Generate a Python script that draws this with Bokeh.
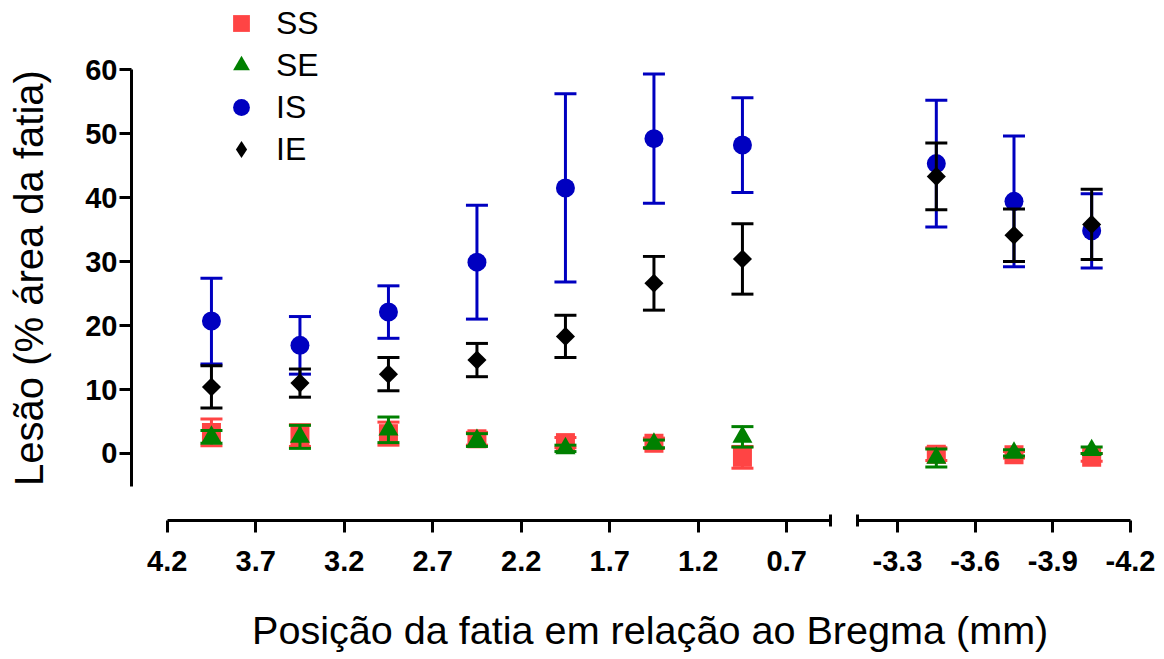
from math import pi
from bokeh.plotting import figure
from bokeh.layouts import column, row
from bokeh.models import (ColumnDataSource, Range1d, FixedTicker, PrintfTickFormatter,
                          Legend, LegendItem, Div)
from bokeh.embed import file_html
from bokeh.resources import INLINE

# posição da fatia em relação ao Bregma (mm)
posicao = [3.95, 3.45, 2.95, 2.45, 1.95, 1.45, 0.95, -3.45, -3.75, -4.05]

# lesão (% área da fatia): média e erro padrão por grupo
ss_media = [3.3, 2.8, 3.1, 2.3, 1.7, 1.6, -0.6, -0.1, -0.2, -0.6]
ss_erro = [2.1, 1.7, 1.8, 1.0, 0.8, 0.8, 1.7, 1.0, 0.5, 0.6]
se_media = [2.6, 2.6, 3.7, 2.1, 0.8, 1.5, 2.6, -0.7, 0.1, 0.5]
se_erro = [1.0, 1.8, 2.0, 1.0, 0.5, 0.6, 1.6, 1.4, 0.5, 0.5]
is_media = [20.7, 16.9, 22.1, 29.9, 41.5, 49.2, 48.2, 45.3, 39.4, 34.8]
is_erro = [6.7, 4.5, 4.1, 8.9, 14.7, 10.1, 7.4, 9.9, 10.2, 5.8]
ie_media = [10.4, 11.0, 12.4, 14.6, 18.3, 26.6, 30.4, 43.3, 34.1, 35.8]
ie_erro = [3.3, 2.2, 2.6, 2.6, 3.3, 4.2, 5.5, 5.2, 4.1, 5.5]

ticks_ant = [4.2, 3.7, 3.2, 2.7, 2.2, 1.7, 1.2, 0.7]
ticks_post = [-3.3, -3.6, -3.9, -4.2]
ticks_y = [0, 10, 20, 30, 40, 50, 60]

FONTE = "Liberation Sans"

# nome, média, erro, cor, marcador, tamanho, ângulo, marcador da legenda
grupos = [
    ("SS", ss_media, ss_erro, "#FF4444", "square", 19, 0, "square"),
    ("SE", se_media, se_erro, "#008000", "triangle", 20, 0, "triangle"),
    ("IS", is_media, is_erro, "#0000C0", "circle", 19, 0, "circle"),
    ("IE", ie_media, ie_erro, "#000000", "square", 13.5, pi / 4, "diamond"),
]

y_rng = Range1d(-10.47, 70.16)

p1 = figure(width=784, height=590, x_range=Range1d(4.4017, 0.3734), y_range=y_rng,
            output_backend="svg", toolbar_location=None,
            min_border_left=71, min_border_right=0, min_border_top=4, min_border_bottom=70)
p2 = figure(width=312, height=590, x_range=Range1d(-3.0954, -4.2502), y_range=y_rng,
            output_backend="svg", toolbar_location=None, y_axis_location=None,
            min_border_left=0, min_border_right=13, min_border_top=4, min_border_bottom=70)


def desenha(p, lado):
    itens = []
    for nome, media, erro, cor, marcador, tam, ang, marc_leg in grupos:
        idx = [i for i, x in enumerate(posicao) if (x > 0) == (lado == "ant")]
        src = ColumnDataSource(dict(
            x=[posicao[i] for i in idx],
            y=[media[i] for i in idx],
            lo=[media[i] - erro[i] for i in idx],
            hi=[media[i] + erro[i] for i in idx],
        ))
        p.segment("x", "lo", "x", "hi", source=src, line_color=cor, line_width=3)
        p.scatter("x", "hi", source=src, marker="dash", size=22, line_color=cor, line_width=3)
        p.scatter("x", "lo", source=src, marker="dash", size=22, line_color=cor, line_width=3)
        p.scatter("x", "y", source=src, marker=marcador, size=tam, angle=ang,
                  fill_color=cor, line_color=None)
        if lado == "ant":
            # marcador só para a legenda (ponto vazio, não aparece no gráfico)
            leg = p.scatter(x=[float("nan")], y=[float("nan")], marker=marc_leg,
                            fill_color=cor, line_color=None)
            itens.append(LegendItem(label=nome, renderers=[leg]))
    return itens


itens = desenha(p1, "ant")
desenha(p2, "post")

for p, ticks, minor, limites in ((p1, ticks_ant, [0.45], (0.45, 4.2)),
                                  (p2, ticks_post, [-3.146], (-4.2, -3.146))):
    p.grid.visible = False
    p.outline_line_color = None
    ax = p.xaxis[0]
    ax.ticker = FixedTicker(ticks=ticks, minor_ticks=minor)
    ax.formatter = PrintfTickFormatter(format="%.1f")
    ax.bounds = limites
    ax.axis_line_width = 3
    ax.axis_line_color = "black"
    ax.major_tick_line_width = 3
    ax.major_tick_line_color = "black"
    ax.minor_tick_line_width = 3
    ax.minor_tick_line_color = "black"
    ax.major_tick_out = 12
    ax.major_tick_in = 0
    ax.minor_tick_out = 6
    ax.minor_tick_in = 6
    ax.major_label_text_font = FONTE
    ax.major_label_text_font_size = "29px"
    ax.major_label_text_font_style = "bold"
    ax.major_label_text_color = "black"
    ax.major_label_standoff = 18

ya = p1.yaxis[0]
ya.ticker = FixedTicker(ticks=ticks_y)
ya.bounds = (-5.2, 60)
ya.axis_line_width = 3
ya.axis_line_color = "black"
ya.major_tick_line_width = 3
ya.major_tick_line_color = "black"
ya.major_tick_out = 12
ya.major_tick_in = 0
ya.minor_tick_line_color = None
ya.major_label_text_font = FONTE
ya.major_label_text_font_size = "29px"
ya.major_label_text_font_style = "bold"
ya.major_label_text_color = "black"
ya.major_label_standoff = 2

legenda = Legend(items=itens, location=(86, 349.7), glyph_width=48, glyph_height=42,
                 label_height=42, spacing=0, padding=0, margin=0, label_standoff=11,
                 label_text_font=FONTE, label_text_font_size="32px",
                 label_text_color="black", border_line_color=None,
                 background_fill_alpha=0)
p1.add_layout(legenda)

# título do eixo y, girado, centrado na linha do eixo
titulo_y = Div(
    text=('<div style="position:absolute;left:-221px;top:255px;width:500px;height:46px;'
          'line-height:46px;text-align:center;transform:rotate(-90deg);'
          'font-family:\'Liberation Sans\';font-size:40px;color:#000;white-space:nowrap">'
          'Lesão (% área da fatia)</div>'),
    width=60, height=590, margin=(0, 0, 0, 0))

titulo_x = Div(
    text=('<div style="font-family:\'Liberation Sans\';font-size:39.6px;line-height:1;'
          'color:#000;padding-left:252px;padding-top:21px;'
          'white-space:nowrap">Posição da fatia em relação ao Bregma (mm)</div>'),
    width=1156, height=61, margin=(0, 0, 0, 0))

layout = column(row(titulo_y, p1, p2, spacing=0), titulo_x, spacing=0)

with open("out.html", "w", encoding="utf-8") as f:
    f.write(file_html(layout, INLINE, title="Lesão"))
